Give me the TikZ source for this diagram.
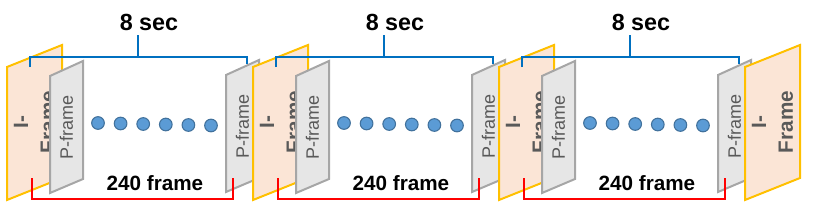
\documentclass[tikz,border=0pt]{standalone}
\usepackage{fontspec}
\setmainfont{Liberation Sans}
\definecolor{ifill}{HTML}{FBE5D6}
\definecolor{iedge}{HTML}{FFC000}
\definecolor{pfill}{HTML}{E6E6E6}
\definecolor{pedge}{HTML}{A6A6A6}
\definecolor{dotblue}{HTML}{5B9BD5}
\definecolor{dotedge}{HTML}{41719C}
\definecolor{secblue}{HTML}{0070C0}
\definecolor{txtgray}{HTML}{595959}
\usetikzlibrary{positioning}

\tikzset{
  iframe/.style={draw=iedge, fill=ifill, line width=1.5pt},
  pframe/.style={draw=pedge, fill=pfill, line width=1.5pt},
  itext/.style={rotate=90, align=center, text=txtgray, font=\fontsize{15.5}{20}\selectfont\bfseries},
  ptext/.style={rotate=90, text=txtgray, font=\fontsize{13.5}{15}\selectfont},
  gopdot/.style={circle, draw=dotedge, fill=dotblue, line width=0.8pt, minimum size=9.5pt, inner sep=0pt},
  secbrace/.style={draw=secblue, line width=1.9pt},
  lenbrace/.style={draw=red, line width=1.6pt},
  bigtext/.style={font=\fontsize{17.5}{20}\selectfont\bfseries},
  midtext/.style={font=\fontsize{15.5}{18}\selectfont\bfseries}
}

\begin{document}
\begin{tikzpicture}[x=0.75pt, y=-0.75pt]
  \useasboundingbox (0,0) rectangle (818,207);

  \foreach \g [evaluate=\g as \xo using 7+246*\g] in {0,1,2} {
    % I-frame
    \draw[iframe] (\xo,67) -- ({\xo+55},45) -- ({\xo+55},178) -- (\xo,200) -- cycle;
    \node[itext] (ilabel\g) at ({\xo+27.5},122) {I-\\Frame};

    % first P-frame
    \draw[pframe] ({\xo+43},76) -- ({\xo+76},61) -- ({\xo+76},179) -- ({\xo+43},193) -- cycle;
    \node[ptext] (pa\g) at ({\xo+59.5},127) {P-frame};

    % dots
    \foreach \k in {0,...,5}
      \node[gopdot] (d\g-\k) at ({\xo+91+22.6*\k},{123+0.5*\k}) {};

    % last P-frame
    \draw[pframe] ({\xo+219},75) -- ({\xo+252},60) -- ({\xo+252},178) -- ({\xo+219},192) -- cycle;
    \node[ptext] (pb\g) at ({\xo+235.5},126) {P-frame};

    % 8 sec brace
    \draw[secbrace] ({\xo+23},67) |- ({\xo+240},57) -- ({\xo+240},64);
    \draw[secbrace] ({\xo+131},57) -- ({\xo+131},35);
    \node[bigtext] (sec\g) at ({\xo+142},22) {8 sec};

    % 240 frame bracket
    \draw[lenbrace] ({\xo+25},178) |- ({\xo+226},199) -- ({\xo+226},178);
    \node[midtext] (len\g) at ({\xo+148},183) {240 frame};
  }

  % closing I-frame
  \draw[iframe] (745,67) -- (800,45) -- (800,178) -- (745,200) -- cycle;
  \node[itext] (ilast) at (772.5,122) {I-\\Frame};
\end{tikzpicture}
\end{document}
